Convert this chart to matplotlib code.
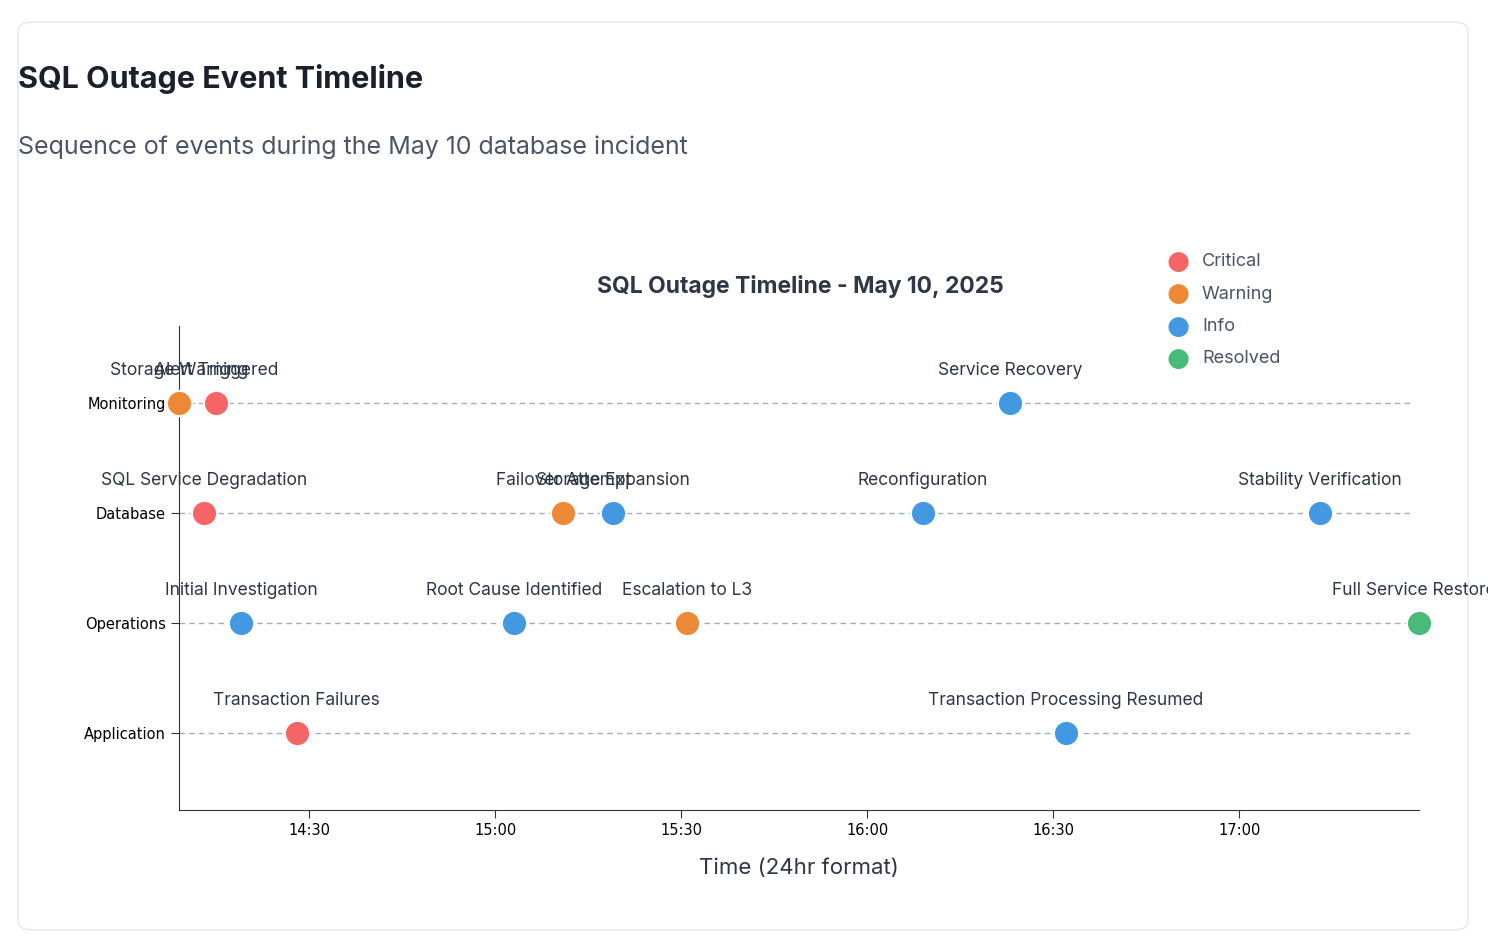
import matplotlib
matplotlib.use("Agg")
import matplotlib.pyplot as plt
from matplotlib.patches import FancyBboxPatch

categories = ["Monitoring", "Database", "Operations", "Application"]
event_names = ["Storage Warning", "Alert Triggered", "Service Recovery",
               "SQL Service Degradation", "Failover Attempt", "Storage Expansion", "Reconfiguration", "Stability Verification",
               "Initial Investigation", "Root Cause Identified", "Escalation to L3", "Full Service Restored",
               "Transaction Failures", "Transaction Processing Resumed"]
event_cat = ["Monitoring", "Monitoring", "Monitoring",
             "Database", "Database", "Database", "Database", "Database",
             "Operations", "Operations", "Operations", "Operations",
             "Application", "Application"]
event_time = ["14:09", "14:15", "16:23",
              "14:13", "15:11", "15:19", "16:09", "17:13",
              "14:19", "15:03", "15:31", "17:29",
              "14:28", "16:32"]
event_sev = ["Warning", "Critical", "Info",
             "Critical", "Warning", "Info", "Info", "Info",
             "Info", "Info", "Warning", "Resolved",
             "Critical", "Info"]
tick_labels = ["14:30", "15:00", "15:30", "16:00", "16:30", "17:00"]
severities = ["Critical", "Warning", "Info", "Resolved"]
colors = {"Critical": "#f56565", "Warning": "#ed8936", "Info": "#4299e1", "Resolved": "#48bb78"}

def tm(s):
    h, m = s.split(":")
    return int(h) * 60 + int(m)

fig = plt.figure(figsize=(14.88, 9.44), dpi=100)
card = FancyBboxPatch((18/1488, 14/944), 1450/1488, 908/944, boxstyle="round,pad=0,rounding_size=0.01",
                      transform=fig.transFigure, fc="white", ec="#e2e8f0", lw=1, zorder=-10)
fig.patches.append(card)
fig.text(18/1488, 1-79/944, "SQL Outage Event Timeline", fontsize=22, fontweight="bold", color="#1a202c", va="center", family="Inter")
fig.text(18/1488, 1-147/944, "Sequence of events during the May 10 database incident", fontsize=18, color="#4a5568", va="center", family="Inter")

ax = fig.add_axes([179/1488, 1-810/944, 1240/1488, 484/944])
ax.set_zorder(5)
ax.patch.set_visible(False)
xmin, xmax = tm("14:09"), tm("17:29")
ax.set_xlim(xmin, xmax)
ax.set_ylim(3 + 0.7, -0.7)
ypos = {c: i for i, c in enumerate(categories)}
for c in categories:
    ax.plot([xmin, xmax - 1.5], [ypos[c]] * 2, ls=(0, (4, 3)), color="#a0aec0", lw=1, zorder=1)
for n, c, t, s in zip(event_names, event_cat, event_time, event_sev):
    x, y = tm(t), ypos[c]
    ax.scatter(x, y, s=330, color=colors[s], edgecolor="white", lw=1.5, zorder=3, clip_on=False)
    ax.text(x, y - 0.22, n, ha="center", va="bottom", fontsize=12.5, color="#2d3748", family="Inter", clip_on=False)
ax.set_yticks(range(4))
ax.set_yticklabels(categories, fontsize=10.5)
ax.set_xticks([tm(t) for t in tick_labels])
ax.set_xticklabels(tick_labels, fontsize=10.5)
for sp in ["top", "right"]:
    ax.spines[sp].set_visible(False)
for sp in ["left", "bottom"]:
    ax.spines[sp].set_color("#333")
ax.tick_params(length=6, color="#333")
ax.set_xlabel("Time (24hr format)", fontsize=16, color="#2d3748", labelpad=14, family="Inter")
fig.text(800/1488, 1-286/944, "SQL Outage Timeline - May 10, 2025", fontsize=16.5, fontweight="bold", color="#2d3748", ha="center", va="center", family="Inter")
for i, s in enumerate(severities):
    yy = 1 - (262 + 32.3 * i) / 944
    fig.text(1178/1488, yy, "●", fontsize=19, color=colors[s], ha="center", va="center")
    fig.text(1202/1488, yy, s, fontsize=13, color="#4a5568", va="center", family="Inter")
fig.savefig("out.png", dpi=100)
